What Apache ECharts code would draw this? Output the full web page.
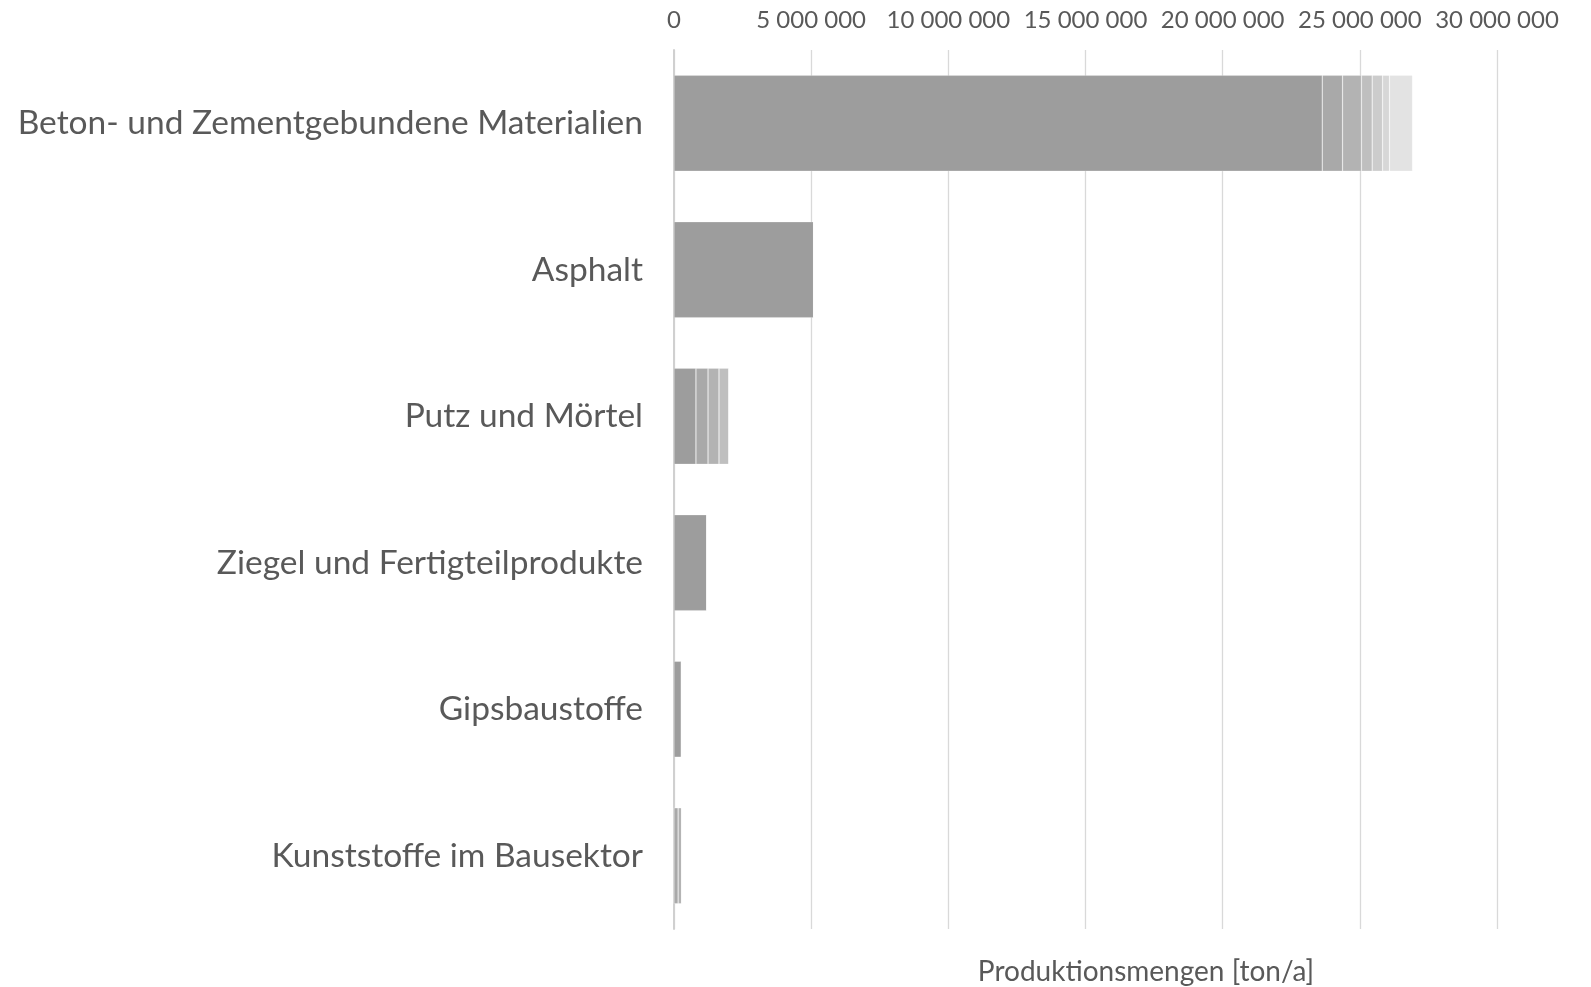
<!DOCTYPE html>
<html>
<head>
<meta charset="utf-8">
<script src="https://cdn.jsdelivr.net/npm/echarts@6/dist/echarts.min.js"></script>
<style>
  html, body { margin: 0; padding: 0; background: #fff; }
  #chart { width: 1591px; height: 987px; }
</style>
</head>
<body>
<div id="chart"></div>
<script>
// categories top to bottom
const categories = ['Beton- und Zementgebundene Materialien', 'Asphalt', 'Putz und Mörtel', 'Ziegel und Fertigteilprodukte', 'Gipsbaustoffe', 'Kunststoffe im Bausektor']

// stacked parts per category (ton/a)
const part1 = [23630000, 5090000, 800000, 1200000, 270000, 0]
const part2 = [740000, 0, 440000, 0, 0, 150000]
const part3 = [690000, 0, 400000, 0, 0, 130000]
const part4 = [390000, 0, 360000, 0, 0, 0]
const part5 = [380000, 0, 0, 0, 0, 0]
const part6 = [250000, 0, 0, 0, 0, 0]
const part7 = [840000, 0, 0, 0, 0, 0]
const parts = [part1, part2, part3, part4, part5, part6, part7]

const xTicks = [0, 5000000, 10000000, 15000000, 20000000, 25000000, 30000000]
const axisName = 'Produktionsmengen [ton/a]'

const shades = ['#9d9d9d', '#a9a9a9', '#b3b3b3', '#bfbfbf', '#cccccc', '#d7d7d7', '#e3e3e3']
const font = 'Lato, "Open Sans", sans-serif'

const fmt = v => String(v).replace(/\B(?=(\d{3})+(?!\d))/g, ' ')

const chart = echarts.init(document.getElementById('chart'))
chart.setOption({
  animation: false,
  textStyle: { fontFamily: font },
  grid: { left: 674, right: 94, top: 50, bottom: 58, containLabel: false },
  xAxis: {
    type: 'value', position: 'top',
    min: xTicks[0], max: xTicks[xTicks.length - 1], interval: xTicks[1] - xTicks[0],
    axisLine: { show: false }, axisTick: { show: false },
    axisLabel: { color: '#595959', fontSize: 24, margin: 18, formatter: v => fmt(v) },
    splitLine: { lineStyle: { color: '#d9d9d9', width: 1.3 } }
  },
  yAxis: {
    type: 'category', data: categories, inverse: true,
    axisLine: { lineStyle: { color: '#d0d0d0', width: 2 } }, axisTick: { show: false },
    axisLabel: { color: '#595959', fontSize: 33.5, margin: 31 }
  },
  graphic: [{
    type: 'text', x: 1146, y: 972,
    style: { text: axisName, fill: '#595959', fontSize: 28, fontFamily: font, align: 'center', verticalAlign: 'middle' }
  }],
  series: parts.map((p, i) => ({
    name: 'Teil ' + (i + 1), type: 'bar', stack: 'total', data: p,
    barCategoryGap: '34.5%',
    itemStyle: { color: shades[i], borderColor: 'rgba(255,255,255,0.35)', borderWidth: 0.6 }
  }))
})
</script>
</body>
</html>
